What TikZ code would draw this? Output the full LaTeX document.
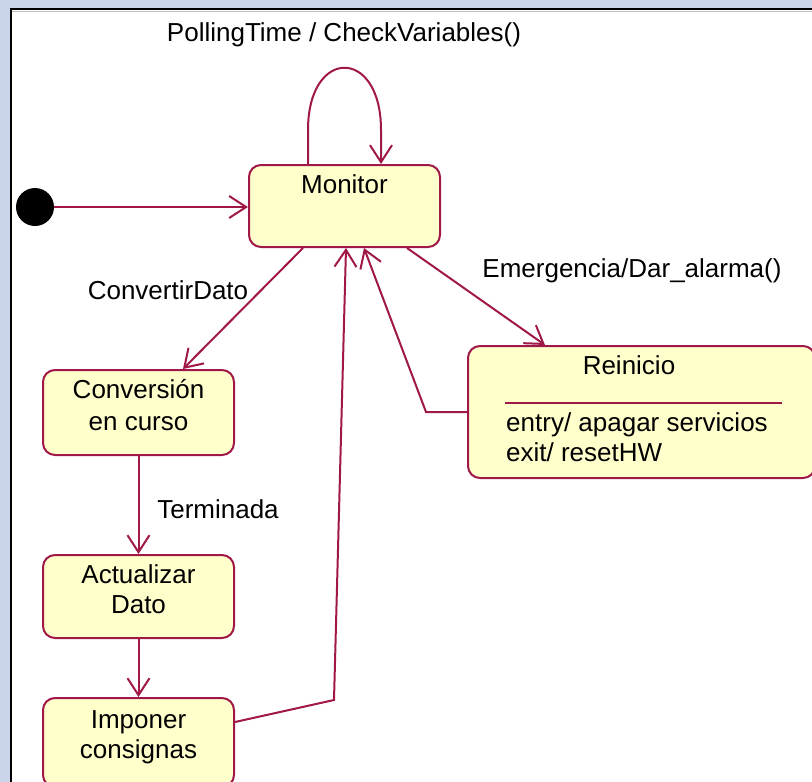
\documentclass[tikz,border=0pt]{standalone}
\usepackage{fontspec}
\setmainfont{Liberation Sans}
\usetikzlibrary{arrows.meta,calc}
\definecolor{wire}{RGB}{160,24,72}
\definecolor{statefill}{RGB}{255,255,204}
\definecolor{panel}{RGB}{202,213,236}
\begin{document}
\begin{tikzpicture}[x=1pt,y=-1pt,
  state/.style={draw=wire, fill=statefill, line width=2pt, rounded corners=12pt, inner sep=0pt},
  txt/.style={inner sep=0pt, text height=18.5pt, text depth=0pt, font=\fontsize{26}{30}\selectfont},
  tr/.style={draw=wire, line width=2pt, -{Straight Barb[length=17pt,width=22pt,line width=2pt]}}]
\useasboundingbox (0,0) rectangle (812,782);
% window panel and frame
\fill[panel] (0,0) rectangle (812,782);
\fill[white] (11,9) rectangle (812,782);
\draw[gray!50, line width=1pt] (12,11) -- (812,11);
\draw[black, line width=2pt] (10.5,782) -- (10.5,8.5) -- (812,8.5);
\begin{scope}
\clip (11.5,9.5) rectangle (812,782);
% states
\node[circle, fill=black, minimum size=38pt, inner sep=0pt] (init) at (35,207) {};
\node[state, minimum width=191pt, minimum height=82pt] (mon) at (344.5,206) {};
\node[txt] at ($(mon.north)+(0,20)$) {Monitor};
\node[state, minimum width=191pt, minimum height=85pt] (conv) at (138.5,412.5) {};
\node[txt] at ($(conv.north)+(0,20)$) {Conversión};
\node[txt] at ($(conv.north)+(0,52)$) {en curso};
\node[state, minimum width=191pt, minimum height=83pt] (act) at (138.5,596.5) {};
\node[txt] at ($(act.north)+(0,20)$) {Actualizar};
\node[txt] at ($(act.north)+(0,50)$) {Dato};
\node[state, minimum width=191pt, minimum height=89pt] (imp) at (138.5,742.5) {};
\node[txt] at ($(imp.north)+(0,22)$) {Imponer};
\node[txt] at ($(imp.north)+(0,52)$) {consignas};
\node[state, minimum width=347pt, minimum height=132pt] (rein) at (641.5,412) {};
\node[txt] at (629,365) {Reinicio};
\draw[wire, line width=2pt] (505,403) -- (782,403);
\node[txt, anchor=west] at (506,422) {entry/ apagar servicios};
\node[txt, anchor=west] at (506,452) {exit/ resetHW};
% transitions
\draw[tr] (init) -- (init -| mon.west);
\coordinate (loopL) at (308,130);
\coordinate (loopR) at (381,130);
\draw[tr] ([xshift=-36.5pt]mon.north) -- (loopL)
  .. controls (308,47) and (381,47) .. (loopR) -- ([xshift=36.5pt]mon.north);
\node[txt] at (344,32) {PollingTime / CheckVariables()};
\draw[tr] ([xshift=-41.5pt]mon.south) -- ([xshift=44.5pt]conv.north);
\node[txt] at (168,290) {ConvertirDato};
\draw[tr] (conv.south) -- (act.north);
\node[txt] at (218,509) {Terminada};
\draw[tr] (act.south) -- (imp.north);
\coordinate (up1) at (334,700);
\draw[tr] ([yshift=20.5pt]imp.east) -- (up1) -- ([xshift=1.5pt]mon.south);
\draw[tr] ([xshift=62.5pt]mon.south) -- ([xshift=-96.5pt]rein.north);
\node[txt] at (632,268) {Emergencia/Dar\_alarma()};
\coordinate (back) at (426,412);
\draw[tr] (rein.west) -- (back) -- ([xshift=19.5pt]mon.south);
\end{scope}
\end{tikzpicture}
\end{document}
